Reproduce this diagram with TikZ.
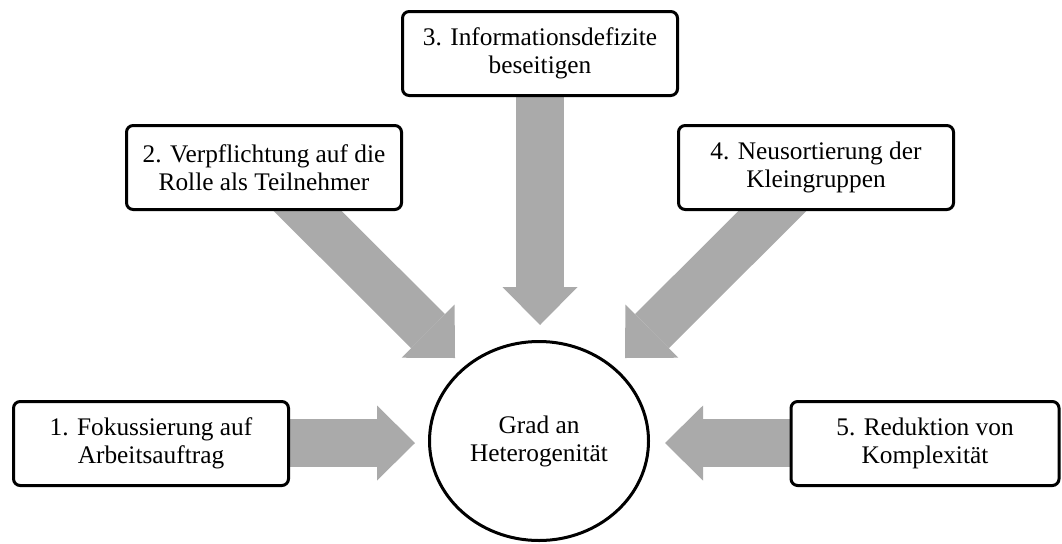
\documentclass[tikz,border=0pt]{standalone}
\usepackage{fontspec}
\setmainfont{Liberation Serif}
\usetikzlibrary{shapes.geometric,arrows.meta,backgrounds}
\definecolor{arrowgray}{RGB}{170,170,170}
\begin{document}
\begin{tikzpicture}[x=0.75pt,y=-0.75pt,
  labelfont/.style={font=\fontsize{19pt}{21pt}\selectfont},
  box/.style={draw=black, line width=2.25pt, rounded corners=5pt, fill=white,
    minimum width=206.25pt, minimum height=63pt, align=center, inner sep=0pt, labelfont},
  hub/.style={ellipse, draw=black, line width=2.25pt, fill=white,
    minimum width=164.25pt, minimum height=149.25pt, align=center, inner sep=0pt, labelfont},
  blockarrow/.style={draw=arrowgray, line width=36pt,
    -{Triangle[length=28.5pt,width=56.25pt,line width=0pt]}}]
\useasboundingbox (0,0) rectangle (1062,543);

% central factor
\node[hub] (hub) at (539,441) {Grad an\\Heterogenität};

% the five measures
\node[box] (b1) at (151,443.5) {1. Fokussierung auf\\Arbeitsauftrag};
\node[box] (b2) at (264,167.5) {2. Verpflichtung auf die\\Rolle als Teilnehmer};
\node[box] (b3) at (540,53.5) {3. Informationsdefizite\\beseitigen};
\node[box] (b4) at (816,167.5) {4. Neusortierung der\\Kleingruppen};
\node[box, minimum width=201pt] (b5) at (925,443.5) {5. Reduktion von\\Komplexität};

% arrow tips in front of the hub
\coordinate (t1) at (415,443);
\coordinate (t2) at (455,358);
\coordinate (t3) at (540,325);
\coordinate (t4) at (625,358);
\coordinate (t5) at (665,443);

% block arrows, drawn behind the boxes
\begin{scope}[on background layer]
  \draw[blockarrow] (b1.center |- t1) -- (t1);
  \draw[blockarrow] (b2.center) -- (t2);
  \draw[blockarrow] (b3.center) -- (t3);
  \draw[blockarrow] (b4.center) -- (t4);
  \draw[blockarrow] (b5.center |- t5) -- (t5);
\end{scope}
\end{tikzpicture}
\end{document}
